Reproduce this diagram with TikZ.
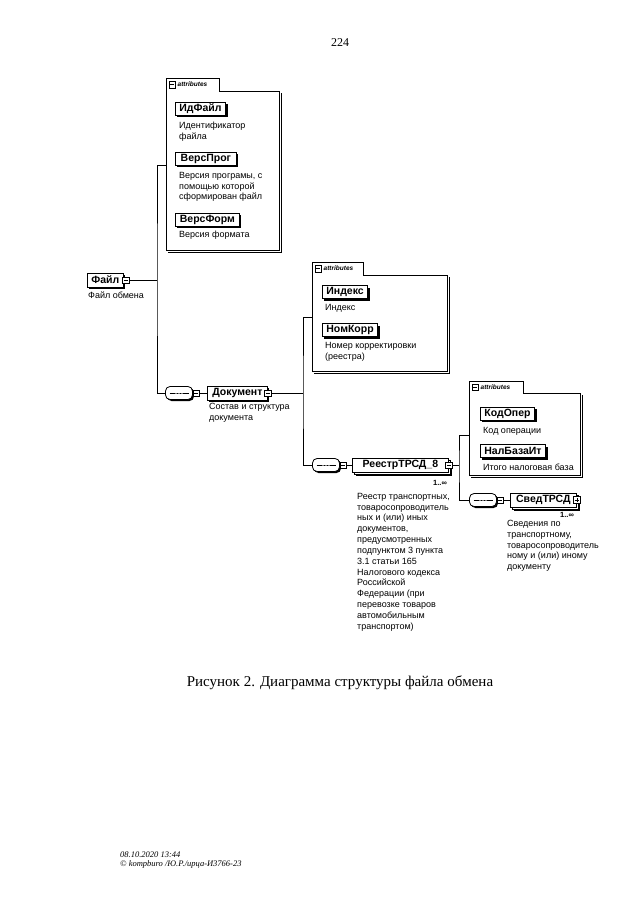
\documentclass[tikz,border=0pt]{standalone}
\usepackage{fontspec}
\setmainfont{Liberation Serif}
\setsansfont{Liberation Sans}
\usepackage{tikz}
\usetikzlibrary{shapes.misc, shadows, positioning}
\tikzstyle{line} = [draw, line width=0.8pt]
\tikzstyle{elem} = [rectangle, draw, fill=white, line width=0.8pt, minimum height=14pt, inner xsep=4pt, inner ysep=0pt, anchor=west, font=\sffamily\bfseries\fontsize{10.5}{11}\selectfont, drop shadow={shadow xshift=2pt, shadow yshift=-2pt, fill=black, opacity=1}]
\tikzstyle{elem_many} = [rectangle, draw, fill=white, line width=0.8pt, minimum height=14pt, inner xsep=4pt, inner ysep=0pt, anchor=west, font=\sffamily\bfseries\fontsize{10.5}{11}\selectfont, drop shadow={shadow xshift=4pt, shadow yshift=-4pt, fill=black, opacity=1}, copy shadow={shadow xshift=2pt, shadow yshift=-2pt, fill=white, draw=black, opacity=1}]
\tikzstyle{ico} = [rectangle, draw, fill=white, minimum size=6.5pt, inner sep=0pt, line width=0.5pt, path picture={\draw[line width=0.6pt] ([xshift=1.2pt]path picture bounding box.west) -- ([xshift=-1.2pt]path picture bounding box.east);}]
\tikzstyle{ico_plus} = [rectangle, draw, fill=white, minimum size=7pt, inner sep=0pt, line width=0.5pt, path picture={\draw[line width=0.6pt] ([xshift=1.2pt]path picture bounding box.west) -- ([xshift=-1.2pt]path picture bounding box.east) ([yshift=1.2pt]path picture bounding box.south) -- ([yshift=-1.2pt]path picture bounding box.north);}]
\tikzstyle{seq} = [rectangle, rounded corners=4.5pt, draw, fill=white, minimum width=27pt, minimum height=13pt, inner sep=0pt, line width=0.8pt, drop shadow={shadow xshift=1.5pt, shadow yshift=-1.5pt, fill=black, opacity=1}, path picture={\draw[line width=0.6pt] ([xshift=4pt]path picture bounding box.west) -- ([xshift=-4pt]path picture bounding box.east); \foreach \d in {-3,0,3} \fill ([xshift=\d pt]path picture bounding box.center) circle (0.9pt);}]
\tikzstyle{desc} = [font=\sffamily\fontsize{9}{10.8}\selectfont, align=left, anchor=north west, inner sep=0pt]
\tikzstyle{occ} = [font=\sffamily\bfseries\fontsize{7.5}{8}\selectfont, inner sep=0pt]
\tikzstyle{attbox} = [rectangle, anchor=north west, inner sep=0pt]
\tikzstyle{att} = [draw, line width=0.7pt]
\tikzstyle{att_sh} = [draw, line width=1.2pt]
\tikzstyle{tabtxt} = [font=\sffamily\bfseries\itshape\fontsize{6.5}{8}\selectfont, inner sep=0pt]
\begin{document}
\begin{tikzpicture}[x=1pt, y=-1pt]
\fill[white] (0,0) rectangle (640,905);
\useasboundingbox (0,0) rectangle (640,905);

\node[font=\fontsize{12}{14}\selectfont] (page) at (340,43) {224};

\node[elem, minimum width=36pt] (fajl) at (87,280) {Файл};
\node[ico] (fajl_i) at ([xshift=2pt]fajl.east) {};
\node[desc] (fajl_d) at (88,292) {Файл обмена};

\node[attbox, minimum width=113pt, minimum height=159pt] (a1) at (166,91) {};
\draw[att] (a1.south west) |- ([yshift=13pt]a1.north west) -| ([xshift=53pt]a1.north west) -| (a1.south east) -- cycle;
\draw[att_sh] ([shift={(2pt,-2pt)}]a1.north east) |- ([shift={(2pt,-2pt)}]a1.south west);
\node[ico] (a1_i) at ([shift={(6pt,6.5pt)}]a1.north west) {};
\node[tabtxt, right=2pt of a1_i] (a1_t) {attributes};

\node[elem, minimum width=49pt, minimum height=13pt] (idf) at (175,108.5) {ИдФайл};
\node[desc] (idf_d) at (179,122) {Идентификатор\\файла};
\node[elem, minimum width=61pt, minimum height=13pt] (vp) at (175,158.5) {ВерсПрог};
\node[desc] (vp_d) at (179,172) {Версия програмы, с\\помощью которой\\сформирован файл};
\node[elem, minimum width=64pt, minimum height=13pt] (vf) at (175,219.5) {ВерсФорм};
\node[desc] (vf_d) at (179,231) {Версия формата};

\coordinate (j1) at (157,280);
\coordinate (c1) at (166,165);
\node[seq] (s1) at (179,393) {};
\node[ico, right=0pt of s1] (s1_i) {};
\path[line] (fajl_i.east) -- (j1);
\path[line] (c1) -| (j1) |- (s1.west);

\node[elem, minimum width=60pt] (dok) at (207,393) {Документ};
\node[ico] (dok_i) at (dok.east) {};
\node[desc] (dok_d) at (209,403) {Состав и структура\\документа};
\path[line] (s1_i.east) -- (dok.west);

\node[attbox, minimum width=135pt, minimum height=96pt] (a2) at (312,275) {};
\draw[att] (a2.south west) |- ([yshift=13pt]a2.north west) -| ([xshift=51pt]a2.north west) -| (a2.south east) -- cycle;
\draw[att_sh] ([shift={(2pt,-2pt)}]a2.north east) |- ([shift={(2pt,-2pt)}]a2.south west);
\node[ico] (a2_i) at ([shift={(6pt,6.5pt)}]a2.north west) {};
\node[tabtxt, right=2pt of a2_i] (a2_t) {attributes};

\node[elem, minimum width=41pt, minimum height=13pt] (ind) at (322,292) {Индекс};
\node[desc] (ind_d) at (325,304) {Индекс};
\node[elem, minimum width=54pt, minimum height=13pt] (nk) at (322,330) {НомКорр};
\node[desc] (nk_d) at (325,342) {Номер корректировки\\(реестра)};

\coordinate (j2) at (303,393);
\coordinate (c2) at (312,317);
\node[seq] (s2) at (326,465) {};
\node[ico, right=0pt of s2] (s2_i) {};
\path[line] (dok_i.east) -- (j2);
\path[line] (c2) -| (j2) |- (s2.west);

\node[elem_many, minimum width=96pt] (ree) at (352,465) {РеестрТРСД\_8};
\node[ico] (ree_i) at (ree.east) {};
\node[occ] (ree_o) at (440,483) {1..∞};
\node[desc] (ree_d) at (357,493) {Реестр транспортных,\\товаросопроводитель\\ных и (или) иных\\документов,\\предусмотренных\\подпунктом 3 пункта\\3.1 статьи 165\\Налогового кодекса\\Российской\\Федерации (при\\перевозке товаров\\автомобильным\\транспортом)};
\path[line] (s2_i.east) -- (ree.west);

\node[attbox, minimum width=111pt, minimum height=82pt] (a3) at (469,393) {};
\draw[att] (a3.south west) |- ([yshift=12pt]a3.north west) -| ([xshift=54pt]a3.north west) -| (a3.south east) -- cycle;
\draw[att_sh] ([shift={(2pt,-2pt)}]a3.north east) |- ([shift={(2pt,-2pt)}]a3.south west);
\node[ico] (a3_i) at ([shift={(6pt,6pt)}]a3.north west) {};
\node[tabtxt, right=2pt of a3_i] (a3_t) {attributes};

\node[elem, minimum width=52pt, minimum height=13pt] (ko) at (480,413.5) {КодОпер};
\node[desc] (ko_d) at (483,427) {Код операции};
\node[elem, minimum width=63pt, minimum height=13pt] (nb) at (480,451) {НалБазаИт};
\node[desc] (nb_d) at (483,464) {Итого налоговая база};

\coordinate (j3) at (459,465);
\coordinate (c3) at (469,435);
\node[seq] (s3) at (483,500) {};
\node[ico, right=0pt of s3] (s3_i) {};
\path[line] (ree_i.east) -- (j3);
\path[line] (c3) -| (j3) |- (s3.west);

\node[elem_many, minimum width=66pt] (sved) at (510,500) {СведТРСД};
\node[ico_plus] (sved_i) at (sved.east) {};
\node[occ] (sved_o) at (567,515) {1..∞};
\node[desc] (sved_d) at (507,520) {Сведения по\\транспортному,\\товаросопроводитель\\ному и (или) иному\\документу};
\path[line] (s3_i.east) -- (sved.west);

\node[font=\fontsize{15}{17}\selectfont] (cap) at (340,683) {Рисунок 2. Диаграмма структуры файла обмена};

\node[font=\itshape\fontsize{8.5}{9}\selectfont, anchor=west, inner sep=0pt] (foot1) at (120,855) {08.10.2020 13:44};
\node[font=\itshape\fontsize{8.5}{9}\selectfont, anchor=west, inner sep=0pt] (foot2) at (120,864) {© kompburo /Ю.Р./ирца-И3766-23};
\end{tikzpicture}
\end{document}
